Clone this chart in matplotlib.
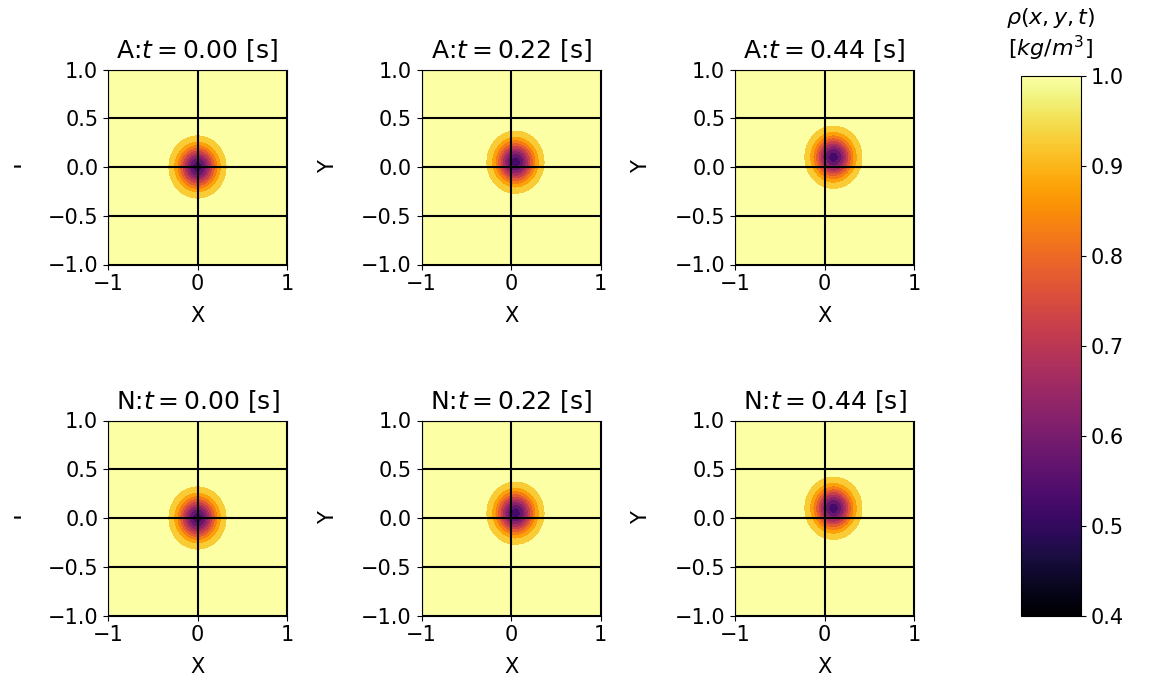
import numpy as np
import matplotlib
matplotlib.use("Agg")
import matplotlib.pyplot as plt
from matplotlib.transforms import Bbox, TransformedBbox

# datos
rows = ['A', 'N']                 # A: analitico, N: numerico
times = [0.00, 0.22, 0.44]        # tiempos [s]
x_centers = [0.00, 0.05, 0.10]    # centro del pulso en x
y_centers = [0.00, 0.05, 0.10]    # centro del pulso en y
rho_0 = 1.0                       # densidad de fondo
amp = [0.48, 0.48, 0.48]          # caida de densidad en el centro
sigma = [0.15, 0.15, 0.15]        # ancho del pulso
levels = [0.50, 0.55, 0.60, 0.65, 0.70, 0.75, 0.80, 0.85, 0.90, 0.95]
yticks = [-1.0, -0.5, 0.0, 0.5, 1.0]
xticks = [-1, 0, 1]
cbar_ticks = [0.4, 0.5, 0.6, 0.7, 0.8, 0.9, 1.0]

plt.rcParams['font.size'] = 15

W, H = 1154, 677
fig = plt.figure(figsize=(W/100, H/100), dpi=100)
cmap = plt.get_cmap('inferno')

x = np.linspace(-1, 1, 301)
X, Y = np.meshgrid(x, x)

lefts = [108, 421.5, 735]
tops = [69.5, 420.5]
aw, ah = 179, 195

for i, r in enumerate(rows):
    for j, t in enumerate(times):
        ax = fig.add_axes([lefts[j]/W, 1 - (tops[i] + ah)/H, aw/W, ah/H])
        ax.set_facecolor(cmap(1.0))   # fondo, rho > 0.95
        R2 = (X - x_centers[j])**2 + (Y - y_centers[j])**2
        rho = rho_0 - amp[j]*np.exp(-R2/(2*sigma[j]**2))
        ax.contourf(X, Y, rho, levels=levels, cmap=cmap, vmin=0.4, vmax=1.0)
        ax.set_xticks(xticks)
        ax.set_yticks(yticks)
        ax.set_xlim(-1, 1)
        ax.set_ylim(-1, 1)
        ax.grid(True, color='k', lw=1.5)
        ax.set_axisbelow(False)
        ax.set_title(r + ':$t = %.2f$ [s]' % t, fontsize=18, pad=8)
        ax.set_xlabel('X')
        ax.set_ylabel('Y')
        ax.xaxis.set_label_coords(0.5, -0.215)
        if j == 0:
            # la etiqueta Y de la primera columna sale cortada en el borde
            ax.yaxis.set_label_coords(-0.458, 0.5)
            lab = ax.yaxis.label
            lab.set_clip_box(TransformedBbox(Bbox.from_extents(14/W, 0, 1, 1), fig.transFigure))
            lab.set_clip_on(True)
        else:
            ax.yaxis.set_label_coords(-0.467, 0.5)

cax = fig.add_axes([1021/W, 61/H, 60/W, 540/H])
sm = plt.cm.ScalarMappable(cmap=cmap, norm=plt.Normalize(0.4, 1.0))
cb = fig.colorbar(sm, cax=cax, ticks=cbar_ticks)
cax.set_title('$\\rho(x,y,t)$\n$[kg/m^3]$', fontsize=16, pad=14)

fig.savefig('out.png', dpi=100)
